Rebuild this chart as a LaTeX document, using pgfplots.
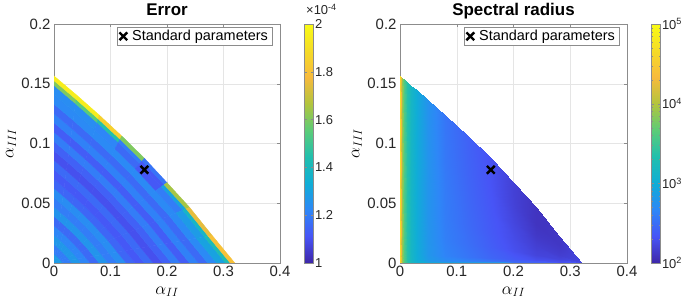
\documentclass[border=0pt]{standalone}
\usepackage{pgfplots}
\pgfplotsset{compat=1.18}
\usepackage{fontspec}
\setmainfont{Liberation Sans}
\pgfplotsset{
 colormap={parula}{
  rgb=(0.2422,0.1504,0.6603)
  rgb=(0.2800,0.3300,0.9650)
  rgb=(0.1786,0.5289,0.9682)
  rgb=(0.0600,0.6800,0.8400)
  rgb=(0.1300,0.7500,0.6800)
  rgb=(0.3600,0.8000,0.4700)
  rgb=(0.7000,0.7700,0.2400)
  rgb=(0.9700,0.7300,0.2400)
  rgb=(0.9600,0.8600,0.1500)
  rgb=(0.9769,0.9839,0.0805)
 },
 myax/.style={
  scale only axis, height=239bp,
  xmin=0, xmax=0.4, ymin=0, ymax=0.2,
  xtick={0,0.1,0.2,0.3,0.4}, xticklabels={0,0.1,0.2,0.3,0.4},
  ytick={0,0.05,0.1,0.15,0.2}, yticklabels={0,0.05,0.1,0.15,0.2},
  grid=major, major grid style={black!10, line width=0.4pt},
  tick align=inside, major tick length=3bp,
  axis line style={black!45}, tick style={black!45},
  ticklabel style={font=\fontsize{15}{15}\selectfont, text=black!85},
  xlabel={$\alpha_{II}$}, ylabel={$\alpha_{III}$},
  label style={font=\fontsize{17}{17}\selectfont},
  xlabel style={at={(0.5,-0.121)}, anchor=center},
  ylabel style={at={(-0.19,0.5)}, anchor=center},
  title style={font=\fontsize{17}{17}\selectfont\bfseries, at={(0.5,1)}, anchor=base, yshift=2.5bp},
  legend style={at={(0.965,0.987)}, anchor=north east, draw=black!45,
    font=\fontsize{14.5}{14.5}\selectfont, inner xsep=2bp, inner ysep=1bp},
  legend cell align=left,
  colormap name=parula,
  colorbar,
 },
 mycb/.style={at={(parent axis.north east)}, anchor=north west, xshift=16bp,
    width=8.5bp, tick align=inside, major tick length=2bp, minor tick length=1.2bp,
    axis line style={black!45}, tick style={black!45},
    yticklabel style={font=\fontsize{13}{13}\selectfont, text=black!85, xshift=-1.5bp}},
}
\begin{document}
\begin{tikzpicture}
\path[use as bounding box] (0,0) rectangle (681bp,308bp);
% ---------------- Error ----------------
\begin{axis}[myax, at={(54bp,45bp)}, anchor=south west, width=226bp,
  title={Error},
  point meta min=1, point meta max=2,
  colorbar style={mycb, ytick={1,1.2,1.4,1.6,1.8,2}, yticklabels={1,1.2,1.4,1.6,1.8,2}}]
\addplot[surf, shader=flat corner, mesh/ordering=x varies, mesh/cols=9, point meta=\thisrow{z}, forget plot]
table[row sep=\\, x=x, y=y] {
x y z\\
0 0 1.28\\ 0 0 1.28\\ 0 0 1.28\\ 0 0 1.28\\ 0 0 1.28\\ 0 0 1.28\\ 0 0 1.28\\ 0 0 1.28\\ 0 0 1.28\\
0 0.007825 1.20\\ 0.002 0.007025 1.20\\ 0.004 0.00619 1.20\\ 0.006 0.00531 1.20\\ 0.008 0.00438 1.20\\ 0.010 0.00336 1.20\\ 0.012 0.002325 1.20\\ 0.014 0.00115 1.20\\ 0.016 0 1.20\\
0 0.01565 1.27\\ 0.004 0.01405 1.27\\ 0.008 0.01238 1.27\\ 0.012 0.01062 1.27\\ 0.016 0.00876 1.27\\ 0.020 0.00672 1.27\\ 0.024 0.00465 1.27\\ 0.028 0.0023 1.27\\ 0.032 0 1.27\\
0 0.023475 1.22\\ 0.006 0.021075 1.22\\ 0.012 0.01857 1.22\\ 0.018 0.01593 1.22\\ 0.024 0.01314 1.22\\ 0.030 0.01008 1.22\\ 0.036 0.006975 1.22\\ 0.042 0.00345 1.22\\ 0.048 0 1.22\\
0 0.0313 1.16\\ 0.008 0.0281 1.16\\ 0.016 0.02476 1.16\\ 0.024 0.02124 1.16\\ 0.032 0.01752 1.16\\ 0.040 0.01344 1.16\\ 0.048 0.0093 1.16\\ 0.056 0.0046 1.16\\ 0.064 0 1.16\\
0 0.039125 1.26\\ 0.010 0.035125 1.26\\ 0.020 0.03095 1.26\\ 0.030 0.02655 1.26\\ 0.040 0.0219 1.26\\ 0.050 0.0168 1.26\\ 0.060 0.011625 1.26\\ 0.070 0.00575 1.26\\ 0.080 0 1.26\\
0 0.04695 1.20\\ 0.012 0.04215 1.20\\ 0.024 0.03714 1.20\\ 0.036 0.03186 1.20\\ 0.048 0.02628 1.20\\ 0.060 0.02016 1.20\\ 0.072 0.01395 1.20\\ 0.084 0.0069 1.20\\ 0.096 0 1.20\\
0 0.054775 1.24\\ 0.014 0.049175 1.24\\ 0.028 0.04333 1.24\\ 0.042 0.03717 1.24\\ 0.056 0.03066 1.24\\ 0.070 0.02352 1.24\\ 0.084 0.016275 1.24\\ 0.098 0.00805 1.24\\ 0.112 0 1.24\\
0 0.0626 1.15\\ 0.016 0.0562 1.15\\ 0.032 0.04952 1.15\\ 0.048 0.04248 1.15\\ 0.064 0.03504 1.15\\ 0.080 0.02688 1.15\\ 0.096 0.0186 1.15\\ 0.112 0.0092 1.15\\ 0.128 0 1.15\\
0 0.070425 1.12\\ 0.018 0.063225 1.12\\ 0.036 0.05571 1.12\\ 0.054 0.04779 1.12\\ 0.072 0.03942 1.12\\ 0.090 0.03024 1.12\\ 0.108 0.020925 1.12\\ 0.126 0.01035 1.12\\ 0.144 0 1.12\\
0 0.07825 1.16\\ 0.020 0.07025 1.16\\ 0.040 0.0619 1.16\\ 0.060 0.0531 1.16\\ 0.080 0.0438 1.16\\ 0.100 0.0336 1.16\\ 0.120 0.02325 1.16\\ 0.140 0.0115 1.16\\ 0.160 0 1.16\\
0 0.086075 1.10\\ 0.022 0.077275 1.10\\ 0.044 0.06809 1.10\\ 0.066 0.05841 1.10\\ 0.088 0.04818 1.10\\ 0.110 0.03696 1.10\\ 0.132 0.025575 1.10\\ 0.154 0.01265 1.10\\ 0.176 0 1.10\\
0 0.0939 1.14\\ 0.024 0.0843 1.14\\ 0.048 0.07428 1.14\\ 0.072 0.06372 1.14\\ 0.096 0.05256 1.14\\ 0.120 0.04032 1.14\\ 0.144 0.0279 1.14\\ 0.168 0.0138 1.14\\ 0.192 0 1.14\\
0 0.101725 1.20\\ 0.026 0.091325 1.20\\ 0.052 0.08047 1.20\\ 0.078 0.06903 1.20\\ 0.104 0.05694 1.20\\ 0.130 0.04368 1.20\\ 0.156 0.030225 1.20\\ 0.182 0.01495 1.20\\ 0.208 0 1.20\\
0 0.10955 1.13\\ 0.028 0.09835 1.13\\ 0.056 0.08666 1.13\\ 0.084 0.07434 1.13\\ 0.112 0.06132 1.13\\ 0.140 0.04704 1.13\\ 0.168 0.03255 1.13\\ 0.196 0.0161 1.13\\ 0.224 0 1.13\\
0 0.117375 1.21\\ 0.030 0.105375 1.21\\ 0.060 0.09285 1.21\\ 0.090 0.07965 1.21\\ 0.120 0.0657 1.21\\ 0.150 0.0504 1.21\\ 0.180 0.034875 1.21\\ 0.210 0.01725 1.21\\ 0.240 0 1.21\\
0 0.1252 1.16\\ 0.032 0.1124 1.16\\ 0.064 0.09904 1.16\\ 0.096 0.08496 1.16\\ 0.128 0.07008 1.16\\ 0.160 0.05376 1.16\\ 0.192 0.0372 1.16\\ 0.224 0.0184 1.16\\ 0.256 0 1.16\\
0 0.133025 1.23\\ 0.034 0.119425 1.23\\ 0.068 0.10523 1.23\\ 0.102 0.09027 1.23\\ 0.136 0.07446 1.23\\ 0.170 0.05712 1.23\\ 0.204 0.039525 1.23\\ 0.238 0.01955 1.23\\ 0.272 0 1.23\\
0 0.14085 1.24\\ 0.036 0.12645 1.24\\ 0.072 0.11142 1.22\\ 0.108 0.09558 1.16\\ 0.144 0.07884 1.12\\ 0.180 0.06048 1.20\\ 0.216 0.04185 1.28\\ 0.252 0.0207 1.30\\ 0.288 0 1.30\\
0 0.148675 1.60\\ 0.038 0.133475 1.55\\ 0.076 0.11761 1.45\\ 0.114 0.10089 1.20\\ 0.152 0.08322 1.12\\ 0.190 0.06384 1.30\\ 0.228 0.044175 1.38\\ 0.266 0.02185 1.42\\ 0.304 0 1.42\\
0 0.152588 1.95\\ 0.039 0.136988 1.95\\ 0.078 0.120705 1.85\\ 0.117 0.103545 1.60\\ 0.156 0.08541 1.18\\ 0.195 0.06552 1.65\\ 0.234 0.045338 1.75\\ 0.273 0.022425 1.80\\ 0.312 0 1.80\\
0 0.1565 1.95\\ 0.04 0.1405 1.95\\ 0.08 0.1238 1.85\\ 0.12 0.1062 1.60\\ 0.16 0.0876 1.18\\ 0.20 0.0672 1.65\\ 0.24 0.0465 1.75\\ 0.28 0.023 1.80\\ 0.32 0 1.80\\
};
\addplot[only marks, mark=x, mark size=5.5bp, line width=2.4bp, black] coordinates {(0.16,0.078)};
\addlegendentry{\hspace{3bp}Standard parameters}
\end{axis}
\node[anchor=base west, font=\fontsize{13}{13}\selectfont, text=black!85, inner sep=0pt] at (306bp,293bp) {×10\textsuperscript{-4}};
% ---------------- Spectral radius ----------------
\begin{axis}[myax, at={(400bp,45bp)}, anchor=south west, width=227bp,
  title={Spectral radius},
  point meta min=2, point meta max=5,
  colorbar style={mycb, ytick={2,3,4,5},
    yticklabels={10\textsuperscript{2},10\textsuperscript{3},10\textsuperscript{4},10\textsuperscript{5}},
    minor ytick={2.30103,2.47712,2.60206,2.69897,2.77815,2.84510,2.90309,2.95424,
      3.30103,3.47712,3.60206,3.69897,3.77815,3.84510,3.90309,3.95424,
      4.30103,4.47712,4.60206,4.69897,4.77815,4.84510,4.90309,4.95424}}]
\addplot[surf, shader=interp, mesh/ordering=x varies, mesh/cols=15, point meta=\thisrow{z}, forget plot]
table[row sep=\\, x=x, y=y] {
x y z\\
0 0 4.7\\ 0.002 0 4.3\\ 0.004 0 3.9\\ 0.007 0 3.6\\ 0.012 0 3.4\\ 0.02 0 3.2\\ 0.03 0 3.05\\ 0.05 0 3.0\\ 0.08 0 3.0\\ 0.12 0 3.0\\ 0.16 0 3.0\\ 0.20 0 3.0\\ 0.24 0 3.0\\ 0.28 0 3.0\\ 0.32 0 3.0\\
0 0.00235 4.7\\ 0.002 0.00234 4.3\\ 0.004 0.00232 3.9\\ 0.007 0.00231 3.6\\ 0.012 0.00228 3.35\\ 0.02 0.00223 3.16\\ 0.03 0.00217 3.0\\ 0.05 0.00204 2.84\\ 0.08 0.00186 2.72\\ 0.12 0.00159 2.64\\ 0.16 0.00131 2.55\\ 0.20 0.00101 2.48\\ 0.24 0.00070 2.42\\ 0.28 0.00035 2.45\\ 0.32 0 2.6\\
0 0.00783 4.7\\ 0.002 0.00779 4.3\\ 0.004 0.00775 3.9\\ 0.007 0.00769 3.6\\ 0.012 0.00759 3.35\\ 0.02 0.00743 3.15\\ 0.03 0.00723 2.99\\ 0.05 0.00682 2.8\\ 0.08 0.00619 2.65\\ 0.12 0.00531 2.55\\ 0.16 0.00438 2.45\\ 0.20 0.00336 2.37\\ 0.24 0.00233 2.3\\ 0.28 0.00115 2.3\\ 0.32 0 2.4\\
0 0.02348 4.7\\ 0.002 0.02336 4.3\\ 0.004 0.02324 3.9\\ 0.007 0.02306 3.6\\ 0.012 0.02276 3.35\\ 0.02 0.02228 3.15\\ 0.03 0.02168 2.98\\ 0.05 0.02045 2.79\\ 0.08 0.01857 2.62\\ 0.12 0.01593 2.51\\ 0.16 0.01314 2.4\\ 0.20 0.01008 2.3\\ 0.24 0.00698 2.22\\ 0.28 0.00345 2.22\\ 0.32 0 2.3\\
0 0.04695 4.7\\ 0.002 0.04671 4.3\\ 0.004 0.04647 3.9\\ 0.007 0.04611 3.6\\ 0.012 0.04551 3.35\\ 0.02 0.04455 3.15\\ 0.03 0.04335 2.98\\ 0.05 0.04089 2.78\\ 0.08 0.03714 2.6\\ 0.12 0.03186 2.48\\ 0.16 0.02628 2.37\\ 0.20 0.02016 2.27\\ 0.24 0.01395 2.18\\ 0.28 0.0069 2.17\\ 0.32 0 2.25\\
0 0.07825 4.7\\ 0.002 0.07785 4.3\\ 0.004 0.07745 3.9\\ 0.007 0.07685 3.6\\ 0.012 0.07585 3.35\\ 0.02 0.07425 3.15\\ 0.03 0.07225 2.98\\ 0.05 0.06815 2.78\\ 0.08 0.0619 2.59\\ 0.12 0.0531 2.46\\ 0.16 0.0438 2.35\\ 0.20 0.0336 2.23\\ 0.24 0.02325 2.13\\ 0.28 0.0115 2.14\\ 0.32 0 2.25\\
0 0.10955 4.7\\ 0.002 0.10899 4.3\\ 0.004 0.10843 3.9\\ 0.007 0.10759 3.6\\ 0.012 0.10619 3.35\\ 0.02 0.10395 3.15\\ 0.03 0.10115 2.98\\ 0.05 0.09541 2.77\\ 0.08 0.08666 2.57\\ 0.12 0.07434 2.44\\ 0.16 0.06132 2.33\\ 0.20 0.04704 2.2\\ 0.24 0.03255 2.1\\ 0.28 0.0161 2.12\\ 0.32 0 2.25\\
0 0.13303 4.7\\ 0.002 0.13235 4.3\\ 0.004 0.13167 3.9\\ 0.007 0.13065 3.6\\ 0.012 0.12895 3.35\\ 0.02 0.12623 3.15\\ 0.03 0.12283 2.98\\ 0.05 0.11586 2.76\\ 0.08 0.10523 2.56\\ 0.12 0.09027 2.43\\ 0.16 0.07446 2.32\\ 0.20 0.05712 2.19\\ 0.24 0.03953 2.1\\ 0.28 0.01955 2.12\\ 0.32 0 2.25\\
0 0.1565 4.7\\ 0.002 0.1557 4.3\\ 0.004 0.1549 3.9\\ 0.007 0.1537 3.6\\ 0.012 0.1517 3.35\\ 0.02 0.1485 3.15\\ 0.03 0.1445 2.98\\ 0.05 0.1363 2.76\\ 0.08 0.1238 2.55\\ 0.12 0.1062 2.42\\ 0.16 0.0876 2.31\\ 0.20 0.0672 2.19\\ 0.24 0.0465 2.1\\ 0.28 0.023 2.12\\ 0.32 0 2.25\\
};
\addplot[only marks, mark=x, mark size=5.5bp, line width=2.4bp, black] coordinates {(0.16,0.078)};
\addlegendentry{\hspace{3bp}Standard parameters}
\end{axis}
\end{tikzpicture}
\end{document}
